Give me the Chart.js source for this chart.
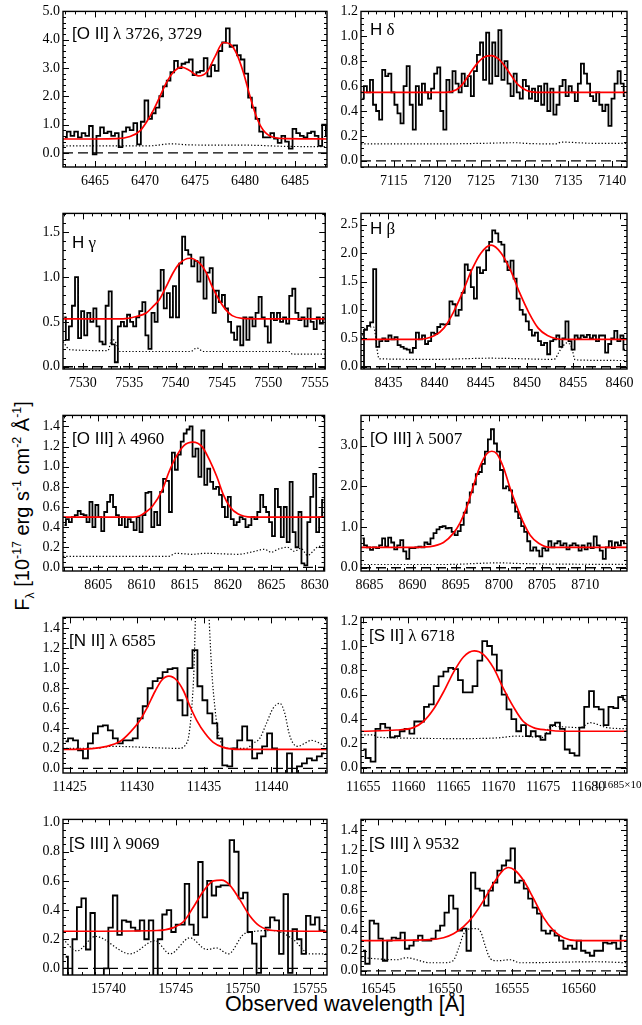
<!DOCTYPE html>
<html>
<head>
<meta charset="utf-8">
<title>Emission lines</title>
<script src="https://cdn.jsdelivr.net/npm/chart.js@4.4.1/dist/chart.umd.min.js"></script>
<style>
  html, body { margin: 0; padding: 0; background: #fff; }
  body { position: relative; width: 642px; height: 1025px; overflow: hidden; }
  canvas { position: absolute; }
  .title { position: absolute; white-space: nowrap; font-size: 17px; line-height: 1; color: #000; transform: translateY(-50%); }
  .sans { font-family: "Liberation Sans", Arial, Helvetica, sans-serif; }
  .serif { font-family: "Liberation Serif", "Times New Roman", "DejaVu Serif", serif; }
  #ytitle { position: absolute; left: 22px; top: 506px; transform: translate(-50%, -50%) rotate(-90deg);
            white-space: nowrap; font: 20px "Liberation Sans", Arial, sans-serif; line-height: 1; }
  #xtitle { position: absolute; left: 345px; top: 1005px; transform: translate(-50%, -50%);
            white-space: nowrap; font: 21.5px "Liberation Sans", Arial, sans-serif; line-height: 1; }
  sup, sub { font-size: 62%; line-height: 0; }
</style>
</head>
<body>
<div id="ytitle">F<sub>λ</sub> [10<sup>-17</sup> erg s<sup>-1</sup> cm<sup>-2</sup> Å<sup>-1</sup>]</div>
<div id="xtitle">Observed wavelength [Å]</div>
<script>
// ---- [O II] 3726,3729 ----
const oiiStart = 6462.0, oiiStep = 0.37;
const oiiFlux = [0.55,0.75,0.6,0.75,0.55,0.7,0.6,0.95,-0.05,0.6,
  0.9,0.7,0.75,0.6,0.7,0.2,0.75,0.9,0.8,1.05,
  0.3,1.1,1.85,1.2,1.4,1.6,2.0,2.35,2.55,2.85,
  3.25,3.0,3.15,3.2,3.3,2.75,2.85,2.9,3.35,2.7,
  3.1,2.9,3.6,3.9,4.4,3.75,3.8,3.45,3.3,2.8,
  1.95,1.6,1.2,0.75,0.55,0.55,0.7,0.5,0.35,0.6,
  0.4,0.15,0.85,0.7,0.6,0.55,0.7,0.75,0.6,0.25,
  1.0,0.6];
const oiiFitWave = [6461.8,6465,6467.17,6468.5,6469.5,6470.17,6470.83,6471.5,6472.17,6472.83,6473.67,6474.5,6475.33,6476.17,6477.0,6477.83,6478.5,6479.17,6479.83,6480.5,6481.17,6481.83,6482.83,6484.17,6488.2];
const oiiFitFlux = [0.49,0.49,0.5,0.58,0.78,1.1,1.5,2.0,2.5,2.85,3.03,2.9,2.72,2.85,3.4,3.9,3.85,3.5,2.85,2.0,1.25,0.8,0.55,0.5,0.49];
const oiiNoiseWave = [6461.8,6470.5,6472.6,6474.5,6480.5,6484,6488.2];
const oiiNoiseFlux = [0.25,0.25,0.32,0.28,0.27,0.23,0.22];
const oiiXTicks = [6465,6470,6475,6480,6485];
const oiiYTicks = [0,1,2,3,4,5];

// ---- H delta ----
const hdStart = 7111.4, hdStep = 0.35;
const hdFlux = [0.5,0.6,0.55,0.65,0.45,0.4,0.33,0.73,0.68,0.7,
  0.55,0.45,0.38,0.3,0.6,0.76,0.45,0.25,0.6,0.45,
  0.62,0.55,0.5,0.58,0.7,0.75,0.4,0.25,0.65,0.55,
  0.72,0.62,0.55,0.7,0.6,0.68,0.52,0.72,0.85,0.95,
  0.65,1.03,0.62,0.95,0.68,1.05,0.65,0.8,0.62,0.52,
  0.7,0.55,0.5,0.65,0.6,0.5,0.58,0.48,0.6,0.45,
  0.62,0.4,0.58,0.37,0.45,0.6,0.65,0.52,0.6,0.55,
  0.48,0.62,0.78,0.7,0.62,0.52,0.48,0.55,0.45,0.4,
  0.45,0.28,0.5,0.62,0.72,0.62,0.52];
const hdFitWave = [7111.25,7121.0,7122.16,7122.93,7123.7,7124.66,7125.42,7126.19,7126.95,7127.72,7128.49,7129.25,7130.21,7131.36,7141.7];
const hdFitFlux = [0.55,0.55,0.57,0.62,0.7,0.79,0.835,0.845,0.82,0.76,0.68,0.61,0.565,0.55,0.55];
const hdNoiseWave = [7111.25,7120,7125,7129,7130,7133.5,7134.2,7138,7141.7];
const hdNoiseFlux = [0.135,0.135,0.14,0.145,0.14,0.135,0.15,0.14,0.14];
const hdXTicks = [7115,7120,7125,7130,7135,7140];
const hdYTicks = [0,0.2,0.4,0.6,0.8,1.0,1.2];

// ---- H gamma ----
const hgStart = 7528.0, hgStep = 0.33;
const hgFlux = [0.55,0.3,0.45,0.68,1.0,0.32,0.62,0.35,0.6,0.5,
  0.65,0.45,0.28,0.25,0.68,0.84,0.25,0.05,0.45,0.5,
  0.45,0.58,0.5,0.45,0.55,0.62,0.72,0.35,0.2,0.6,
  0.5,0.85,1.08,0.65,0.82,0.55,0.9,0.55,1.15,1.45,
  1.3,1.25,1.12,1.18,0.95,1.22,0.76,1.05,1.1,0.6,
  0.85,0.72,0.8,0.65,0.5,0.38,0.3,0.45,0.24,0.55,
  0.3,0.55,0.45,0.6,0.78,0.55,0.45,0.27,0.6,0.52,
  0.6,0.5,0.55,0.48,0.79,0.87,0.6,0.52,0.55,0.45,
  0.65,0.5,0.42,0.55,0.48,0.55];
const hgFitWave = [7527.86,7534.34,7535.77,7536.84,7537.55,7538.26,7538.97,7539.69,7540.4,7541.55,7542.54,7543.25,7543.96,7544.67,7545.38,7546.1,7547.17,7548.95,7556.14];
const hgFitFlux = [0.535,0.535,0.56,0.6,0.67,0.75,0.89,1.04,1.15,1.21,1.16,1.06,0.89,0.75,0.64,0.57,0.54,0.535,0.535];
const hgNoiseWave = [7527.86,7528.6,7532.7,7533.15,7533.5,7534.0,7541.6,7542.3,7543.0,7552.3,7552.6,7556.14];
const hgNoiseFlux = [0.28,0.19,0.18,0.31,0.28,0.17,0.17,0.21,0.17,0.17,0.14,0.14];
const hgXTicks = [7530,7535,7540,7545,7550,7555];
const hgYTicks = [0,0.5,1.0,1.5];

// ---- H beta ----
const hbStart = 8432.2, hbStep = 0.33;
const hbFlux = [-0.1,0.65,0.72,0.78,1.72,0.35,0.45,0.5,0.45,0.55,
  0.48,0.52,0.38,0.35,0.32,0.3,0.25,0.33,0.6,0.48,
  0.55,0.4,0.45,0.6,0.58,0.7,0.75,0.74,0.75,1.15,
  1.1,0.9,1.0,1.3,1.8,1.7,1.4,1.2,1.75,1.65,
  1.7,2.05,2.2,2.4,2.35,2.2,2.15,1.85,1.7,1.87,
  1.55,1.2,1.0,0.92,0.8,0.65,0.55,0.6,0.45,0.38,
  0.42,0.22,0.45,0.48,0.55,0.35,0.5,0.8,0.45,0.3,
  0.55,0.5,0.55,0.52,0.56,0.5,0.55,0.45,0.55,0.55,
  0.25,0.4,0.5,0.63,0.45,0.55,0.3];
const hbFitWave = [8432.04,8438.0,8440.0,8441.0,8442.0,8443.0,8444.0,8445.0,8446.1,8447.2,8448.2,8449.2,8450.2,8451.2,8452.2,8454.0,8460.8];
const hbFitFlux = [0.48,0.48,0.55,0.68,0.95,1.3,1.7,2.0,2.14,2.0,1.7,1.3,0.95,0.68,0.55,0.48,0.48];
const hbNoiseWave = [8432.04,8432.6,8433.4,8434.0,8440,8446,8452.9,8453.6,8454.3,8454.8,8455.2,8460.8];
const hbNoiseFlux = [0.5,0.7,0.7,0.14,0.13,0.15,0.13,0.3,0.42,0.35,0.12,0.11];
const hbXTicks = [8435,8440,8445,8450,8455,8460];
const hbYTicks = [0,0.5,1.0,1.5,2.0,2.5];

// ---- [O III] 4960 ----
const o3aStart = 8601.1, o3aStep = 0.34;
const o3aFlux = [0.42,0.48,0.45,0.5,0.52,0.56,0.53,0.52,0.45,0.65,
  0.4,0.62,0.5,0.36,0.55,0.65,0.72,0.6,0.52,0.42,
  0.5,0.4,0.48,0.45,0.37,0.5,0.35,0.52,0.74,0.75,
  0.4,0.55,0.42,0.75,0.88,0.86,0.55,1.14,0.97,1.12,
  1.25,1.33,1.37,1.4,1.1,1.18,0.9,1.36,0.82,0.98,
  0.85,0.78,0.8,0.72,0.6,0.5,0.7,0.48,0.42,0.45,
  0.5,0.48,0.4,0.42,0.5,0.48,0.55,0.72,0.6,0.55,
  0.45,0.31,0.78,0.6,0.3,0.6,0.25,0.85,0.35,0.2,
  0.55,0.04,0.02,0.45,0.7,0.93,0.35,0.5,0.67];
const o3aFitWave = [8600.93,8609.0,8609.76,8610.5,8611.28,8612.4,8613.18,8613.94,8614.89,8615.92,8616.99,8617.94,8618.7,8619.46,8620.22,8621.17,8622.7,8631.14];
const o3aFitFlux = [0.5,0.5,0.51,0.55,0.61,0.77,0.95,1.09,1.21,1.245,1.2,1.05,0.9,0.72,0.6,0.53,0.5,0.5];
const o3aNoiseWave = [8600.93,8613.18,8613.94,8615.85,8617.37,8621.17,8623.07,8624.2,8624.98,8625.74,8626.88,8627.64,8628.4,8629.16,8630.3,8631.14];
const o3aNoiseFlux = [0.11,0.11,0.14,0.13,0.14,0.13,0.16,0.18,0.15,0.18,0.2,0.16,0.19,0.12,0.2,0.22];
const o3aXTicks = [8605,8610,8615,8620,8625,8630];
const o3aYTicks = [0,0.2,0.4,0.6,0.8,1.0,1.2,1.4];

// ---- [O III] 5007 ----
const o3bStart = 8684.2, o3bStep = 0.35;
const o3bFlux = [0.72,0.55,0.5,0.44,0.5,0.48,0.55,0.72,0.52,0.74,
  0.62,0.45,0.55,0.68,0.4,0.22,0.48,0.48,0.5,0.52,
  0.5,0.62,0.58,0.72,0.85,0.94,1.0,1.02,0.97,0.98,
  0.88,0.8,0.9,1.05,1.35,1.6,1.85,2.05,2.3,2.35,
  2.55,2.85,3.15,3.4,3.05,2.85,2.4,1.95,2.0,1.9,
  1.6,1.38,1.22,1.02,0.88,0.65,0.42,0.5,0.42,0.28,
  0.48,0.42,0.65,0.5,0.6,0.65,0.55,0.6,0.45,0.55,
  0.6,0.55,0.42,0.55,0.45,0.6,0.48,0.77,0.55,0.42,
  0.22,0.5,0.65,0.48,0.62,0.55,0.66,0.6];
const o3bFitWave = [8684.03,8690.0,8692.03,8693.58,8694.74,8695.5,8696.3,8697.06,8697.83,8698.6,8699.18,8699.76,8700.53,8701.3,8702.08,8702.85,8703.62,8704.6,8705.94,8714.83];
const o3bFitFlux = [0.5,0.5,0.52,0.62,0.85,1.1,1.5,2.02,2.5,2.8,2.86,2.8,2.46,1.95,1.5,1.1,0.8,0.6,0.5,0.5];
const o3bNoiseWave = [8684.03,8694,8698,8700,8703,8714.83];
const o3bNoiseFlux = [0.08,0.08,0.11,0.12,0.1,0.08];
const o3bXTicks = [8685,8690,8695,8700,8705,8710];
const o3bYTicks = [0,1,2,3];

// ---- [N II] 6585 ----
const n2Start = 11424.7, n2Step = 0.37;
const n2Flux = [0.27,0.3,0.28,0.18,0.1,0.25,0.35,0.42,0.43,0.38,
  0.3,0.25,0.28,0.28,0.3,0.5,0.62,0.8,0.87,0.9,
  0.96,0.99,1.0,0.68,0.53,1.0,1.18,0.82,0.68,0.55,
  0.45,0.3,0.03,0.02,0.2,0.28,0.42,0.28,0.1,0.15,
  0.22,0.35,0.2,-0.1,-0.1,0.15,-0.1,0.02,0.05,0.1,
  0.08,0.12,0.15];
const n2FitWave = [11424.51,11425.3,11427.77,11428.76,11429.5,11430.24,11430.74,11431.36,11431.85,11432.39,11432.96,11433.45,11433.95,11434.45,11435.07,11435.68,11436.42,11437.66,11444.14];
const n2FitFlux = [0.19,0.19,0.22,0.27,0.36,0.48,0.6,0.77,0.88,0.92,0.88,0.78,0.62,0.48,0.35,0.26,0.21,0.19,0.19];
const n2NoiseWave = [11424.51,11427,11428,11433.2,11433.7,11433.83,11434.08,11434.25,11434.45,11434.8,11435.2,11435.56,11435.81,11436.06,11436.3,11436.67,11438.15,11438.65,11439.14,11439.64,11440.13,11440.63,11441.0,11441.32,11441.62,11441.99,11442.48,11442.98,11443.6,11444.14];
const n2NoiseFlux = [0.2,0.2,0.22,0.2,0.25,0.3,0.6,1.0,2.0,3.0,2.0,1.0,0.6,0.35,0.25,0.2,0.2,0.25,0.3,0.45,0.6,0.65,0.55,0.35,0.25,0.22,0.25,0.28,0.25,0.2];
const n2XTicks = [11425,11430,11435,11440];
const n2YTicks = [0,0.2,0.4,0.6,0.8,1.0,1.2,1.4];

// ---- [S II] 6718 ----
const s2Start = 11655.0, s2Step = 0.54;
const s2Flux = [0.15,0.08,0.05,0.32,0.36,0.33,0.25,0.26,0.3,0.32,
  0.28,0.38,0.38,0.5,0.52,0.67,0.75,0.79,0.82,0.81,
  0.72,0.62,0.62,0.67,0.88,1.04,1.0,0.93,0.8,0.6,
  0.48,0.4,0.3,0.35,0.26,0.3,0.26,0.23,0.28,0.35,
  0.37,0.32,0.15,0.12,0.1,0.33,0.5,0.63,0.5,0.48,
  0.35,0.5,0.49,0.58,0.56];
const s2FitWave = [11654.74,11658.7,11660.57,11661.68,11662.8,11663.9,11665.0,11666.14,11667.33,11668.37,11669.48,11670.59,11671.7,11672.8,11673.93,11675.4,11677.3,11684.33];
const s2FitFlux = [0.3,0.31,0.33,0.38,0.48,0.62,0.78,0.91,0.96,0.93,0.82,0.65,0.5,0.38,0.33,0.31,0.3,0.3];
const s2NoiseWave = [11654.74,11656.1,11656.67,11666.1,11669.85,11672.07,11675.04,11675.8,11679.1,11680.24,11682.1,11684.33];
const s2NoiseFlux = [0.27,0.27,0.25,0.24,0.245,0.26,0.25,0.34,0.33,0.37,0.33,0.32];
const s2XTicks = [11655,11660,11665,11670,11675,11680];
const s2YTicks = [0,0.2,0.4,0.6,0.8,1.0,1.2];

// ---- [S III] 9069 ----
const s3aStart = 15736.8, s3aStep = 0.335;
const s3aFlux = [0.08,-0.1,0.2,0.42,0.48,0.13,0.38,-0.1,-0.1,0.0,
  0.28,0.5,0.23,0.33,0.32,0.28,0.26,0.33,0.2,0.33,
  -0.1,0.2,0.37,0.4,0.25,0.3,0.3,0.58,0.3,0.23,
  0.73,0.35,0.6,0.5,0.56,0.57,0.57,0.88,0.8,0.48,
  0.52,0.25,0.17,-0.03,0.22,0.28,0.35,0.33,0.1,0.51,
  -0.03,0.27,0.2,0.1,0.36,0.3,0.35,0.26,0.25];
const s3aFitWave = [15736.6,15743.6,15744.84,15745.58,15746.32,15747.07,15747.82,15748.43,15749.05,15749.8,15750.54,15751.28,15752.27,15756.29];
const s3aFitFlux = [0.255,0.26,0.28,0.32,0.42,0.53,0.6,0.605,0.57,0.47,0.36,0.29,0.26,0.255];
const s3aNoiseWave = [15736.6,15737.64,15739.0,15741.6,15743.47,15744.59,15746.07,15747.31,15748.06,15748.93,15750.17,15752.27,15753.76,15755.0,15756.29];
const s3aNoiseFlux = [0.2,0.12,0.22,0.1,0.19,0.1,0.21,0.13,0.14,0.1,0.24,0.26,0.2,0.1,0.1];
const s3aXTicks = [15740,15745,15750,15755];
const s3aYTicks = [0,0.2,0.4,0.6,0.8,1.0];

// ---- [S III] 9532 ----
const s3bStart = 16543.85, s3bStep = 0.33;
const s3bFlux = [0.2,0.07,0.5,0.47,0.32,0.1,0.3,0.33,0.32,0.38,
  0.22,0.25,0.3,0.35,0.3,0.3,0.32,0.4,0.45,0.58,
  0.75,0.62,0.4,0.42,0.2,0.98,0.82,0.8,0.65,0.8,
  0.88,1.0,1.05,1.1,1.22,0.88,0.9,0.82,0.72,0.63,
  0.57,0.4,0.37,0.4,0.35,0.3,0.22,0.25,0.22,0.3,
  0.2,0.18,0.15,0.2,0.2,0.28,0.27,0.28,0.22,0.35];
const s3bFitWave = [16543.7,16548.88,16549.88,16550.63,16551.38,16552.13,16552.88,16553.63,16554.25,16554.75,16555.25,16555.88,16556.63,16557.38,16558.13,16558.88,16559.88,16563.63];
const s3bFitFlux = [0.3,0.31,0.33,0.37,0.44,0.55,0.7,0.87,0.99,1.03,1.0,0.9,0.72,0.53,0.4,0.33,0.3,0.3];
const s3bNoiseWave = [16543.7,16546.4,16547.1,16548.9,16549.9,16550.6,16551.0,16551.4,16551.9,16552.4,16552.7,16553.0,16553.4,16553.9,16554.9,16555.6,16561.4,16563.63];
const s3bNoiseFlux = [0.13,0.11,0.13,0.08,0.08,0.1,0.22,0.37,0.42,0.42,0.38,0.25,0.12,0.1,0.11,0.08,0.09,0.08];
const s3bXTicks = [16545,16550,16555,16560];
const s3bYTicks = [0,0.2,0.4,0.6,0.8,1.0,1.2,1.4];

// panel layout (row, column, axis ranges, label placement)
const panels = [
  { row: 0, col: 0, x: [6461.8, 6488.2], y: [-0.5, 5.0], yMajor: 1, yMinor: 0.2,
    start: oiiStart, step: oiiStep, flux: oiiFlux, fitW: oiiFitWave, fitF: oiiFitFlux,
    noiseW: oiiNoiseWave, noiseF: oiiNoiseFlux, xTicks: oiiXTicks, yTicks: oiiYTicks,
    title: '<span class="sans">[O II]</span><span class="serif"> λ 3726, 3729</span>', tx: 72, ty: 33 },
  { row: 0, col: 1, x: [7111.25, 7141.7], y: [-0.05, 1.2], yMajor: 0.2, yMinor: 0.05,
    start: hdStart, step: hdStep, flux: hdFlux, fitW: hdFitWave, fitF: hdFitFlux,
    noiseW: hdNoiseWave, noiseF: hdNoiseFlux, xTicks: hdXTicks, yTicks: hdYTicks,
    title: '<span class="sans">H</span><span class="serif"> δ</span>', tx: 370, ty: 29 },
  { row: 1, col: 0, x: [7527.86, 7556.14], y: [-0.025, 1.71], yMajor: 0.5, yMinor: 0.1,
    start: hgStart, step: hgStep, flux: hgFlux, fitW: hgFitWave, fitF: hgFitFlux,
    noiseW: hgNoiseWave, noiseF: hgNoiseFlux, xTicks: hgXTicks, yTicks: hgYTicks,
    title: '<span class="sans">H</span><span class="serif"> γ</span>', tx: 72, ty: 242 },
  { row: 1, col: 1, x: [8432.04, 8460.8], y: [-0.04, 2.7], yMajor: 0.5, yMinor: 0.1,
    start: hbStart, step: hbStep, flux: hbFlux, fitW: hbFitWave, fitF: hbFitFlux,
    noiseW: hbNoiseWave, noiseF: hbNoiseFlux, xTicks: hbXTicks, yTicks: hbYTicks,
    title: '<span class="sans">H</span><span class="serif"> β</span>', tx: 370, ty: 228 },
  { row: 2, col: 0, x: [8600.93, 8631.14], y: [-0.036, 1.51], yMajor: 0.2, yMinor: 0.05,
    start: o3aStart, step: o3aStep, flux: o3aFlux, fitW: o3aFitWave, fitF: o3aFitFlux,
    noiseW: o3aNoiseWave, noiseF: o3aNoiseFlux, xTicks: o3aXTicks, yTicks: o3aYTicks,
    title: '<span class="sans">[O III]</span><span class="serif"> λ 4960</span>', tx: 72, ty: 438 },
  { row: 2, col: 1, x: [8684.03, 8714.83], y: [-0.08, 3.74], yMajor: 1, yMinor: 0.2,
    start: o3bStart, step: o3bStep, flux: o3bFlux, fitW: o3bFitWave, fitF: o3bFitFlux,
    noiseW: o3bNoiseWave, noiseF: o3bNoiseFlux, xTicks: o3bXTicks, yTicks: o3bYTicks,
    title: '<span class="sans">[O III]</span><span class="serif"> λ 5007</span>', tx: 370, ty: 438 },
  { row: 3, col: 0, x: [11424.51, 11444.14], y: [-0.046, 1.507], yMajor: 0.2, yMinor: 0.05,
    start: n2Start, step: n2Step, flux: n2Flux, fitW: n2FitWave, fitF: n2FitFlux,
    noiseW: n2NoiseWave, noiseF: n2NoiseFlux, xTicks: n2XTicks, yTicks: n2YTicks,
    title: '<span class="sans">[N II]</span><span class="serif"> λ 6585</span>', tx: 69, ty: 640 },
  { row: 3, col: 1, x: [11654.74, 11684.33], y: [-0.043, 1.235], yMajor: 0.2, yMinor: 0.05,
    start: s2Start, step: s2Step, flux: s2Flux, fitW: s2FitWave, fitF: s2FitFlux,
    noiseW: s2NoiseWave, noiseF: s2NoiseFlux, xTicks: s2XTicks, yTicks: s2YTicks,
    extra: { value: 11685, text: '1.1685×10', sup: '4' },
    title: '<span class="sans">[S II]</span><span class="serif"> λ 6718</span>', tx: 369, ty: 635 },
  { row: 4, col: 0, x: [15736.6, 15756.29], y: [-0.045, 1.022], yMajor: 0.2, yMinor: 0.05,
    start: s3aStart, step: s3aStep, flux: s3aFlux, fitW: s3aFitWave, fitF: s3aFitFlux,
    noiseW: s3aNoiseWave, noiseF: s3aNoiseFlux, xTicks: s3aXTicks, yTicks: s3aYTicks,
    title: '<span class="sans">[S III]</span><span class="serif"> λ 9069</span>', tx: 69, ty: 843 },
  { row: 4, col: 1, x: [16543.7, 16563.63], y: [-0.042, 1.51], yMajor: 0.2, yMinor: 0.05,
    start: s3bStart, step: s3bStep, flux: s3bFlux, fitW: s3bFitWave, fitF: s3bFitFlux,
    noiseW: s3bNoiseWave, noiseF: s3bNoiseFlux, xTicks: s3bXTicks, yTicks: s3bYTicks,
    title: '<span class="sans">[S III]</span><span class="serif"> λ 9532</span>', tx: 369, ty: 843 }
];

const tickFont = { family: '"Liberation Serif", "Times New Roman", "DejaVu Serif", serif', size: 14 };

// box with inward major/minor ticks on all four sides (IDL style)
const framePlugin = {
  id: 'frame',
  afterDatasetsDraw(chart, args, opts) {
    const { ctx, chartArea: a } = chart;
    const xs = chart.scales.x, ys = chart.scales.y;
    ctx.save();
    ctx.strokeStyle = '#000';
    ctx.lineWidth = 1;
    ctx.beginPath();
    for (let k = Math.ceil(xs.min - 1e-6); k <= Math.floor(xs.max + 1e-6); k++) {
      const len = k % 5 === 0 ? 6 : 3;
      const px = Math.round(xs.getPixelForValue(k)) + 0.5;
      ctx.moveTo(px, a.bottom); ctx.lineTo(px, a.bottom - len);
      ctx.moveTo(px, a.top); ctx.lineTo(px, a.top + len);
    }
    const k0 = Math.ceil(ys.min / opts.yMinor - 1e-6), k1 = Math.floor(ys.max / opts.yMinor + 1e-6);
    for (let k = k0; k <= k1; k++) {
      const v = k * opts.yMinor;
      const r = v / opts.yMajor;
      const len = Math.abs(r - Math.round(r)) < 1e-6 ? 6 : 3;
      const py = Math.round(ys.getPixelForValue(v)) + 0.5;
      ctx.moveTo(a.left, py); ctx.lineTo(a.left + len, py);
      ctx.moveTo(a.right, py); ctx.lineTo(a.right - len, py);
    }
    ctx.stroke();
    ctx.lineWidth = 1.4;
    ctx.strokeRect(a.left, a.top, a.right - a.left, a.bottom - a.top);
    if (opts.extra) {
      // IDL prints the next major tick value beyond the axis end in exponent form
      const px = xs.getPixelForValue(opts.extra.value) - 39;
      const py = a.bottom + 7;
      ctx.fillStyle = '#000';
      ctx.textBaseline = 'top';
      ctx.textAlign = 'left';
      ctx.font = '11px ' + tickFont.family;
      ctx.fillText(opts.extra.text, px, py);
      const w = ctx.measureText(opts.extra.text).width;
      ctx.font = '7px ' + tickFont.family;
      ctx.fillText(opts.extra.sup, px + w + 0.5, py - 2);
    }
    ctx.restore();
  }
};

function points(ws, fs) {
  return ws.map((w, i) => ({ x: w, y: fs[i] }));
}

panels.forEach(p => {
  const left = p.col === 0 ? 0 : 335;
  const width = p.col === 0 ? 335 : 307;
  const yAxisW = p.col === 0 ? 63 : 26;
  const padRight = p.col === 0 ? 8 : 15;
  const canvas = document.createElement('canvas');
  canvas.width = width;
  canvas.height = 195;
  canvas.style.left = left + 'px';
  canvas.style.top = (p.row * 202) + 'px';
  canvas.style.width = width + 'px';
  canvas.style.height = '195px';
  document.body.appendChild(canvas);

  const spectrum = p.flux.map((f, i) => ({ x: p.start + i * p.step, y: f }));

  new Chart(canvas, {
    type: 'line',
    data: {
      datasets: [
        { data: points(p.fitW, p.fitF), borderColor: '#ff0000', borderWidth: 1.7,
          pointRadius: 0, tension: 0.4, cubicInterpolationMode: 'monotone', order: 0, clip: 0 },
        { data: spectrum, borderColor: '#000', borderWidth: 1.8, pointRadius: 0,
          stepped: 'middle', order: 1, clip: 0 },
        { data: points(p.noiseW, p.noiseF), borderColor: '#000', borderWidth: 1.2, borderDash: [1.3, 2],
          pointRadius: 0, tension: 0.4, cubicInterpolationMode: 'monotone', order: 2, clip: 0 },
        { data: [{ x: p.x[0], y: 0 }, { x: p.x[1], y: 0 }], borderColor: '#000', borderWidth: 1.3,
          borderDash: [10, 5], pointRadius: 0, order: 3, clip: 0 }
      ]
    },
    options: {
      responsive: false,
      animation: false,
      events: [],
      layout: { padding: { top: 8, right: padRight, left: 0, bottom: 0 } },
      plugins: {
        legend: { display: false },
        tooltip: { enabled: false },
        frame: { yMajor: p.yMajor, yMinor: p.yMinor, extra: p.extra }
      },
      scales: {
        x: {
          type: 'linear', min: p.x[0], max: p.x[1], bounds: 'data',
          grid: { display: false, drawTicks: false }, border: { display: false },
          afterBuildTicks: s => { s.ticks = p.xTicks.map(v => ({ value: v })); },
          afterFit: s => { s.height = 28; },
          ticks: { color: '#000', font: tickFont, padding: 6, maxRotation: 0, autoSkip: false,
                   callback: v => String(v) }
        },
        y: {
          type: 'linear', min: p.y[0], max: p.y[1], bounds: 'data',
          grid: { display: false, drawTicks: false }, border: { display: false },
          afterBuildTicks: s => { s.ticks = p.yTicks.map(v => ({ value: v })); },
          afterFit: s => { s.width = yAxisW; },
          ticks: { color: '#000', font: tickFont, padding: 3, autoSkip: false,
                   callback: v => Number(v).toFixed(1) }
        }
      }
    },
    plugins: [framePlugin]
  });

  const t = document.createElement('div');
  t.className = 'title';
  t.style.left = p.tx + 'px';
  t.style.top = p.ty + 'px';
  t.innerHTML = p.title;
  document.body.appendChild(t);
});
</script>
</body>
</html>
